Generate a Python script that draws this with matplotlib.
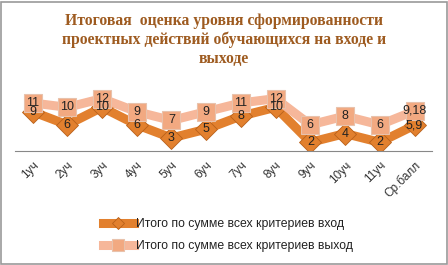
import matplotlib.pyplot as plt
from matplotlib.patches import Rectangle

# ------------------------------------------------------------
# Data
# ------------------------------------------------------------
categories = ["1уч", "2уч", "3уч", "4уч", "5уч", "6уч", "7уч", "8уч",
              "9уч", "10уч", "11уч", "Ср.балл"]
vals_in = [9, 6, 10, 6, 3, 5, 8, 10, 2, 4, 2, 5.9]
vals_out = [11, 10, 12, 9, 7, 9, 11, 12, 6, 8, 6, 9.18]
labels_in = ["9", "6", "10", "6", "3", "5", "8", "10", "2", "4", "2", "5,9"]
labels_out = ["11", "10", "12", "9", "7", "9", "11", "12", "6", "8", "6", "9,18"]
name_in = "Итого по сумме всех критериев вход"
name_out = "Итого по сумме всех критериев выход"
title = "Итоговая  оценка уровня сформированности\nпроектных действий обучающихся на входе и\nвыходе"

c_in = "#E2802E"
c_in_edge = "#B8601A"
c_out = "#F6B79A"
c_out_mk = "#F2A981"
c_out_edge = "#E8C2AC"

plt.rcParams["font.family"] = ["Liberation Sans", "DejaVu Sans"]

fig = plt.figure(figsize=(4.48, 2.65), dpi=100)
fig.patches.append(Rectangle((0.002, 0.004), 0.995, 0.99, transform=fig.transFigure,
                             fill=False, edgecolor="#9a9a9a", linewidth=1.2))

fig.text(0.5, 0.952, title, ha="center", va="top", fontsize=11.3, fontweight="bold",
         family="Liberation Serif", color="#9E5B20", linespacing=1.22)

ax = fig.add_axes([0.034, 0.43, 0.93, 0.264])
x = list(range(len(categories)))

ax.plot(x, vals_in, color=c_in, lw=6.5, marker="D", ms=11, mfc=c_in,
        mec=c_in_edge, mew=0.6, label=name_in, zorder=2)
ax.plot(x, vals_out, color=c_out, lw=6.5, marker="s", ms=13.5, mfc=c_out_mk,
        mec=c_out_edge, mew=0.8, label=name_out, zorder=3)

for xi, v, t in zip(x, vals_in, labels_in):
    ax.text(xi, v, t, ha="center", va="center", fontsize=9, color="#222222", zorder=5)
for xi, v, t in zip(x, vals_out, labels_out):
    ax.text(xi, v, t, ha="center", va="center", fontsize=9, color="#222222", zorder=5)

ax.set_xlim(-0.5, len(categories) - 0.5)
ax.set_ylim(0, 16)
for s in ["top", "right", "left"]:
    ax.spines[s].set_visible(False)
ax.spines["bottom"].set_color("#888888")
ax.set_yticks([])
ax.set_xticks(x)
ax.set_xticklabels(categories, rotation=45, ha="right", rotation_mode="anchor",
                   fontsize=8.5, color="#333333")
ax.tick_params(axis="x", length=0, pad=6)

handles, labs = ax.get_legend_handles_labels()
fig.legend(handles, labs, loc="upper left", bbox_to_anchor=(103 / 448, 1 - 218 / 265),
           frameon=False, fontsize=8.8, handlelength=2.5, handletextpad=0.2,
           labelspacing=0.8, borderpad=0, borderaxespad=0, markerscale=0.6,
           labelcolor="#222222")

fig.savefig("out.png", dpi=100, facecolor="white")
